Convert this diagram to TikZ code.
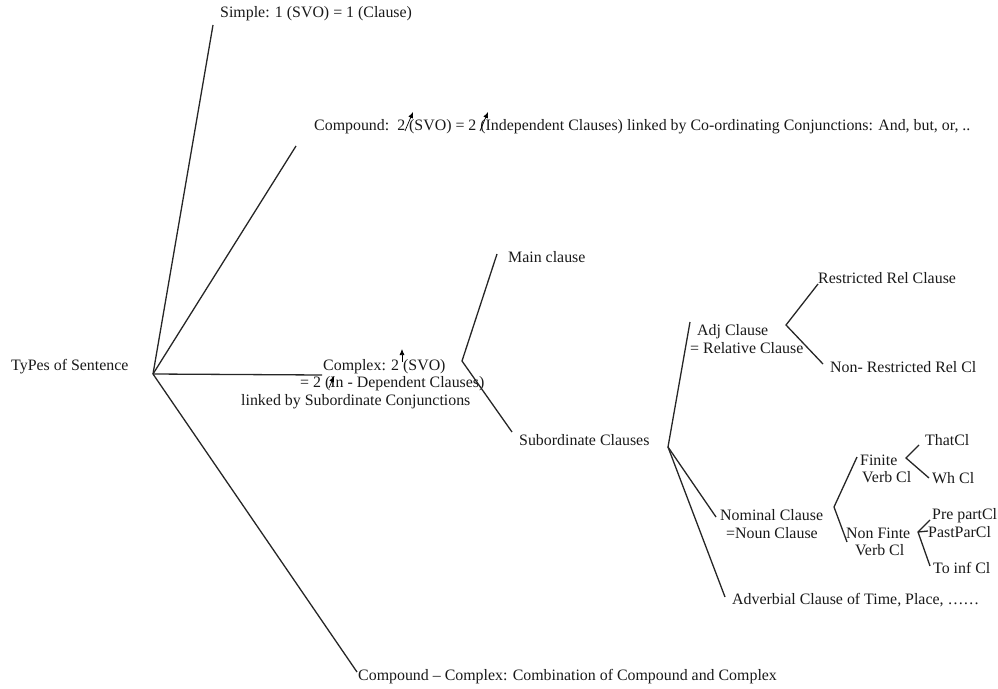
\documentclass[tikz,border=0pt]{standalone}
\usepackage{fontspec}
\setmainfont{Liberation Serif}
\usetikzlibrary{arrows.meta}

\begin{document}
\begin{tikzpicture}[x=1pt, y=-1pt,
  txt/.style={anchor=west, inner sep=1pt, font=\fontsize{15.9}{17.6}\selectfont, text=black!90},
  stack/.style={txt, align=left},
  branch/.style={line width=1.3pt, draw=black!85},
  stressarrow/.style={line width=0.7pt, -{Latex[length=6pt,width=5pt]}}]
\useasboundingbox (0,0) rectangle (998,688);
% Root
\node[txt] (types) at (10,367) {TyPes of Sentence};
\coordinate (typesfork) at (153,374);
% First level
\node[txt] (simple) at (219,14) {Simple: 1 (SVO) = 1 (Clause)};
\node[txt] (compound) at (313,127) {Compound:\ \ 2 (SVO) = 2 (Independent Clauses) linked by Co-ordinating Conjunctions: And, but, or, ..};
\node[stack] (complex) at (240,384) {\hspace*{82pt}Complex: 2 (SVO)\\\hspace*{59pt}= 2 (In - Dependent Clauses)\\linked by Subordinate Conjunctions};
\node[txt] (compcomplex) at (357,677) {Compound -- Complex: Combination of Compound and Complex};
\draw[branch] (typesfork) -- (213,25);
\draw[branch] (typesfork) -- (296,146);
\draw[branch] (typesfork) -- (322,375);
\draw[branch] (typesfork) -- (357,672);
% Complex: main / subordinate
\coordinate (complexfork) at (462,361);
\node[txt] (mainclause) at (507,257) {Main clause};
\node[txt] (subclauses) at (518,440) {Subordinate Clauses};
\draw[branch] (497,254) -- (complexfork) -- (512,432);
% Subordinate clauses
\coordinate (subfork) at (668,447);
\node[stack] (adjclause) at (689,339) {\hspace*{7pt}Adj Clause\\= Relative Clause};
\node[stack] (nomclause) at (719,524) {Nominal Clause\\\hspace*{6pt}=Noun Clause};
\node[txt] (advclause) at (731,600) {Adverbial Clause of Time, Place, ……};
\draw[branch] (690,322) -- (subfork) -- (716,517);
\draw[branch] (subfork) -- (725,597);
% Adjective clause
\coordinate (adjfork) at (786,325);
\node[txt] (restricted) at (817,278) {Restricted Rel Clause};
\node[txt] (nonrestricted) at (829,367) {Non- Restricted Rel Cl};
\draw[branch] (818,284) -- (adjfork) -- (823,364);
% Nominal clause
\coordinate (nomfork) at (834,507);
\node[stack] (finite) at (859,469) {Finite\\\hspace*{2pt}Verb Cl};
\node[stack] (nonfinite) at (845,542) {Non Finte\\\hspace*{9pt}Verb Cl};
\draw[branch] (857,457) -- (nomfork) -- (847,542);
% Finite verb clause
\coordinate (finitefork) at (906,458);
\node[txt] (thatcl) at (924,440) {ThatCl};
\node[txt] (whcl) at (931,478) {Wh Cl};
\draw[branch] (919,445) -- (finitefork) -- (929,478);
% Non-finite verb clause
\coordinate (nonfinitefork) at (918,532);
\node[txt] (prepart) at (931,516) {Pre partCl};
\node[txt] (pastpart) at (927,532) {PastParCl};
\node[txt] (toinf) at (932,568) {To inf Cl};
\draw[branch] (930,520) -- (nonfinitefork) -- (930,566);
\draw[branch] (nonfinitefork) -- (928,531);
% Stress arrows
\draw[stressarrow] (405,131) -- (413,112);
\draw[stressarrow] (480,131) -- (488,112);
\draw[stressarrow] (402,362) -- (402,349);
\draw[stressarrow] (329,388) -- (334,376);
\end{tikzpicture}
\end{document}
